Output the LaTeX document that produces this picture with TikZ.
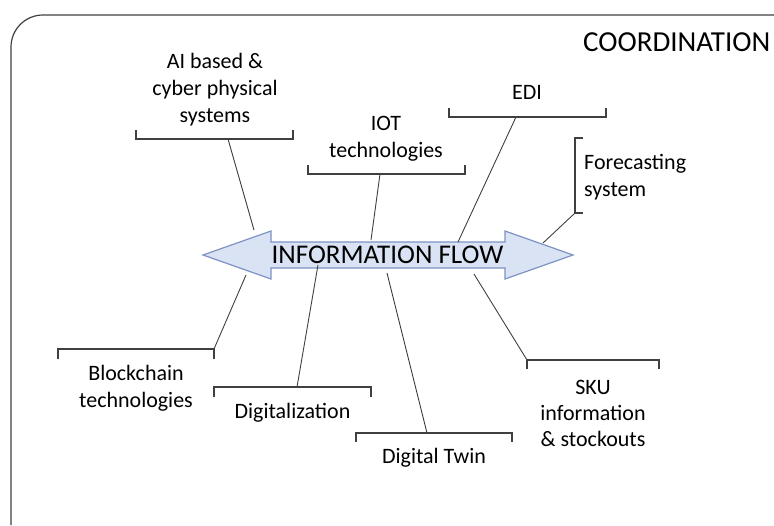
\documentclass[tikz,border=0pt]{standalone}
\usepackage{fontspec}
\setmainfont{Carlito}
\usepackage{tikz}
\usetikzlibrary{calc, positioning}

\definecolor{flowfill}{HTML}{DAE3F3}
\definecolor{flowedge}{HTML}{7C93C3}
\definecolor{linegray}{HTML}{404040}

\begin{document}
\begin{tikzpicture}[x=1pt, y=-1pt,
        lbl/.style={font=\fontsize{22}{27}\selectfont, align=center, inner sep=0pt},
        big/.style={font=\fontsize{27}{30}\selectfont, inner sep=0pt},
        brace/.style={linegray, line width=1.2pt},
        link/.style={linegray, line width=0.9pt}]
    \useasboundingbox (0,0) rectangle (774,525);

    % frame
    \draw[linegray, line width=1.2pt, rounded corners=32pt] (774,15) -- (11,15) -- (11,525);
    \node[big, font=\fontsize{29}{30}\selectfont, anchor=base west] (coord) at (583,51) {COORDINATION};

    % information flow arrow
    \draw[flowedge, fill=flowfill, line width=1.2pt] (203,255) -- (271,231) -- (271,242) -- (505,242) -- (505,231)
        -- (573,255) -- (505,279) -- (505,268) -- (271,268) -- (271,279) -- cycle;
    \node[big, anchor=base] (flow) at (387.5,263) {INFORMATION FLOW};

    % labels
    \node[lbl] (ai) at (215,90) {AI based \&\\cyber physical\\systems};
    \node[lbl] (iot) at (386,138.5) {IOT\\technologies};
    \node[lbl, anchor=base] (edi) at (527,99) {EDI};
    \node[lbl, align=left, anchor=west] (fore) at (584,177.5) {Forecasting\\system};
    \node[lbl] (block) at (136,388.5) {Blockchain\\technologies};
    \node[lbl, anchor=base] (digi) at (292.5,418) {Digitalization};
    \node[lbl, anchor=base] (twin) at (434,463) {Digital Twin};
    \node[lbl, font=\fontsize{22}{26}\selectfont] (sku) at (593,413) {SKU\\information\\\& stockouts};

    % brackets
    \draw[brace] (136,130) -- (136,139) -- (293,139) -- (293,130);
    \draw[brace] (308,165) -- (308,174) -- (465,174) -- (465,165);
    \draw[brace] (449,108) -- (449,117) -- (606,117) -- (606,108);
    \draw[brace] (583,138) -- (575,138) -- (575,213) -- (583,213);
    \draw[brace] (58,359) -- (58,349) -- (214,349) -- (214,359);
    \draw[brace] (214,397) -- (214,387) -- (371,387) -- (371,397);
    \draw[brace] (356,442) -- (356,433) -- (512,433) -- (512,442);
    \draw[brace] (527,369) -- (527,360) -- (659,360) -- (659,369);

    % bracket and arrow points
    \coordinate (ai-b) at (228,139);   \coordinate (ai-a) at (254,230);
    \coordinate (iot-b) at (380,174);  \coordinate (iot-a) at (371,240);
    \coordinate (edi-b) at (516,117);  \coordinate (edi-a) at (458,242);
    \coordinate (fore-b) at (575,213); \coordinate (fore-a) at (543,243);
    \coordinate (block-b) at (214,349); \coordinate (block-a) at (246,275);
    \coordinate (digi-b) at (297,387); \coordinate (digi-a) at (318,265);
    \coordinate (twin-b) at (427,433); \coordinate (twin-a) at (387,273);
    \coordinate (sku-b) at (527,360);  \coordinate (sku-a) at (474,274);

    % connectors
    \draw[link] (ai-b) -- (ai-a);
    \draw[link] (iot-b) -- (iot-a);
    \draw[link] (edi-b) -- (edi-a);
    \draw[link] (fore-b) -- (fore-a);
    \draw[link] (block-b) -- (block-a);
    \draw[link] (digi-b) -- (digi-a);
    \draw[link] (twin-b) -- (twin-a);
    \draw[link] (sku-b) -- (sku-a);
\end{tikzpicture}
\end{document}
